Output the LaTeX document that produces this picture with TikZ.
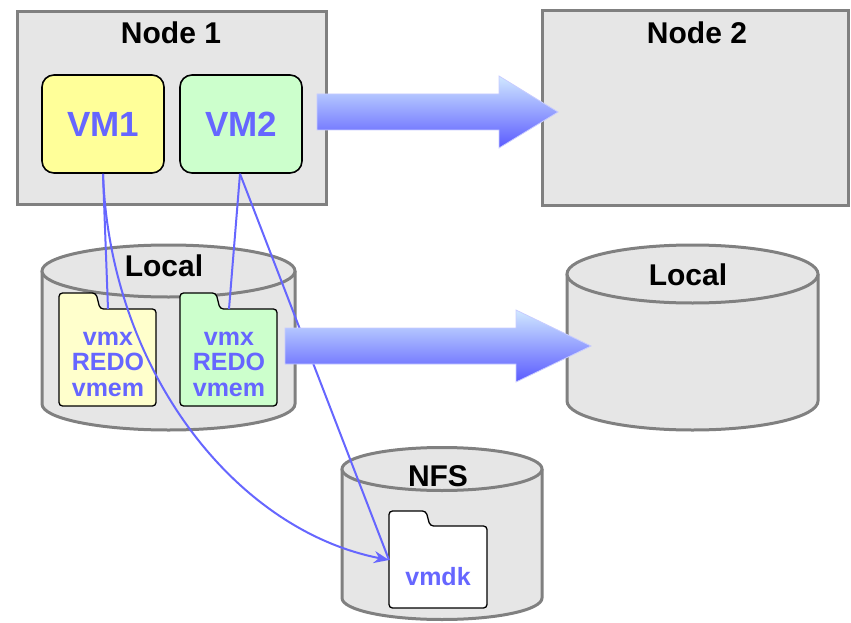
\documentclass[tikz,border=0pt]{standalone}
\usepackage{fontspec}
\setmainfont{Liberation Sans}
\usetikzlibrary{arrows.meta}
\definecolor{boxgray}{HTML}{E6E6E6}
\definecolor{bordergray}{HTML}{808080}
\definecolor{vmblue}{HTML}{6666FF}
\definecolor{vmyellow}{HTML}{FFFF99}
\definecolor{vmgreen}{HTML}{CCFFCC}
\definecolor{foldyellow}{HTML}{FFFFCC}
\definecolor{arrtop}{HTML}{D0E8FF}
\definecolor{arrbot}{HTML}{5A5AFF}
\definecolor{arredge}{HTML}{C8CCFF}
\tikzset{
  hostbox/.style={fill=boxgray, draw=bordergray, line width=3pt},
  cylbody/.style={fill=boxgray, draw=bordergray, line width=3pt},
  vmbox/.style={draw=black, line width=1.6pt, rounded corners=12pt, minimum width=122pt, minimum height=98pt, inner sep=0pt, text=vmblue, font=\fontsize{35}{35}\selectfont\bfseries},
  folderbox/.style={draw=black, line width=1.3pt, rounded corners=3.5pt},
  title/.style={anchor=base, inner sep=0pt, font=\fontsize{30}{30}\selectfont\bfseries},
  files/.style={anchor=base, inner sep=0pt, align=center, text=vmblue, font=\fontsize{25}{25.5}\selectfont\bfseries},
  link/.style={draw=vmblue, line width=2pt},
  bigarrow/.style={top color=arrtop, bottom color=arrbot, draw=arredge, line width=0.8pt}
}
\begin{document}
\begin{tikzpicture}[x=1pt,y=-1pt]
\useasboundingbox (0,0) rectangle (851,623);

% host boxes
\draw[hostbox] (17,12) rectangle (326,204);
\draw[hostbox] (542,11) rectangle (848,205);
\node[title] (n1) at (171,44) {Node 1};
\node[title] (n2) at (697,44) {Node 2};

% VMs
\node[vmbox, fill=vmyellow] (vm1) at (103,124) {VM1};
\node[vmbox, fill=vmgreen] (vm2) at (241,124) {VM2};

% left Local cylinder
\filldraw[cylbody] (42,271) -- (42,404) arc[start angle=180, end angle=0, x radius=126.5, y radius=26] -- (295,271);
\draw[cylbody] (168.5,271) ellipse [x radius=126.5, y radius=26];
\node[title] (loc1) at (164,276) {Local};

% right Local cylinder
\filldraw[cylbody] (567,274) -- (567,401) arc[start angle=180, end angle=0, x radius=125.5, y radius=29] -- (818,274);
\draw[cylbody] (692.5,274) ellipse [x radius=125.5, y radius=29];
\node[title] (loc2) at (688,285) {Local};

% NFS cylinder
\filldraw[cylbody] (342,469) -- (342,598) arc[start angle=180, end angle=0, x radius=100, y radius=21.5] -- (542,469);
\draw[cylbody] (442,469) ellipse [x radius=100, y radius=21.5];
\node[title] (nfs) at (438,486) {NFS};

% folders
\draw[folderbox, fill=foldyellow] (59,406) -- (59,293) -- (96,293) -- (100,309) -- (156,309) -- (156,406) -- cycle;
\draw[folderbox, fill=vmgreen] (180,406) -- (180,293) -- (216,293) -- (220,309) -- (277,309) -- (277,406) -- cycle;
\draw[folderbox, fill=white] (389,608) -- (389,511) -- (426,511) -- (430,526) -- (487,526) -- (487,608) -- cycle;
\node[files] (f1) at (108,396) {vmx\\REDO\\vmem};
\node[files] (f2) at (229,396) {vmx\\REDO\\vmem};
\node[files, font=\fontsize{25}{25}\selectfont\bfseries] (f3) at (438,585) {vmdk};

\coordinate (f1top) at (108,309);
\coordinate (f2top) at (229,309);
\coordinate (f3in) at (389,560);

% connectors
\draw[link] (vm1.south) -- (f1top);
\draw[link, -{Stealth[length=15pt,width=12pt]}] (vm1.south) .. controls (110,370) and (235,530) .. (f3in);
\draw[link] ([xshift=-1pt]vm2.south) -- (f2top);
\draw[link] ([xshift=-1pt]vm2.south) -- (f3in);

% big migration arrows
\path[bigarrow] (317,94) -- (499,94) -- (499,76) -- (558,112) -- (499,148) -- (499,130) -- (317,130) -- cycle;
\path[bigarrow] (285,328) -- (516,328) -- (516,310) -- (591,346) -- (516,382) -- (516,364) -- (285,364) -- cycle;
\end{tikzpicture}
\end{document}
